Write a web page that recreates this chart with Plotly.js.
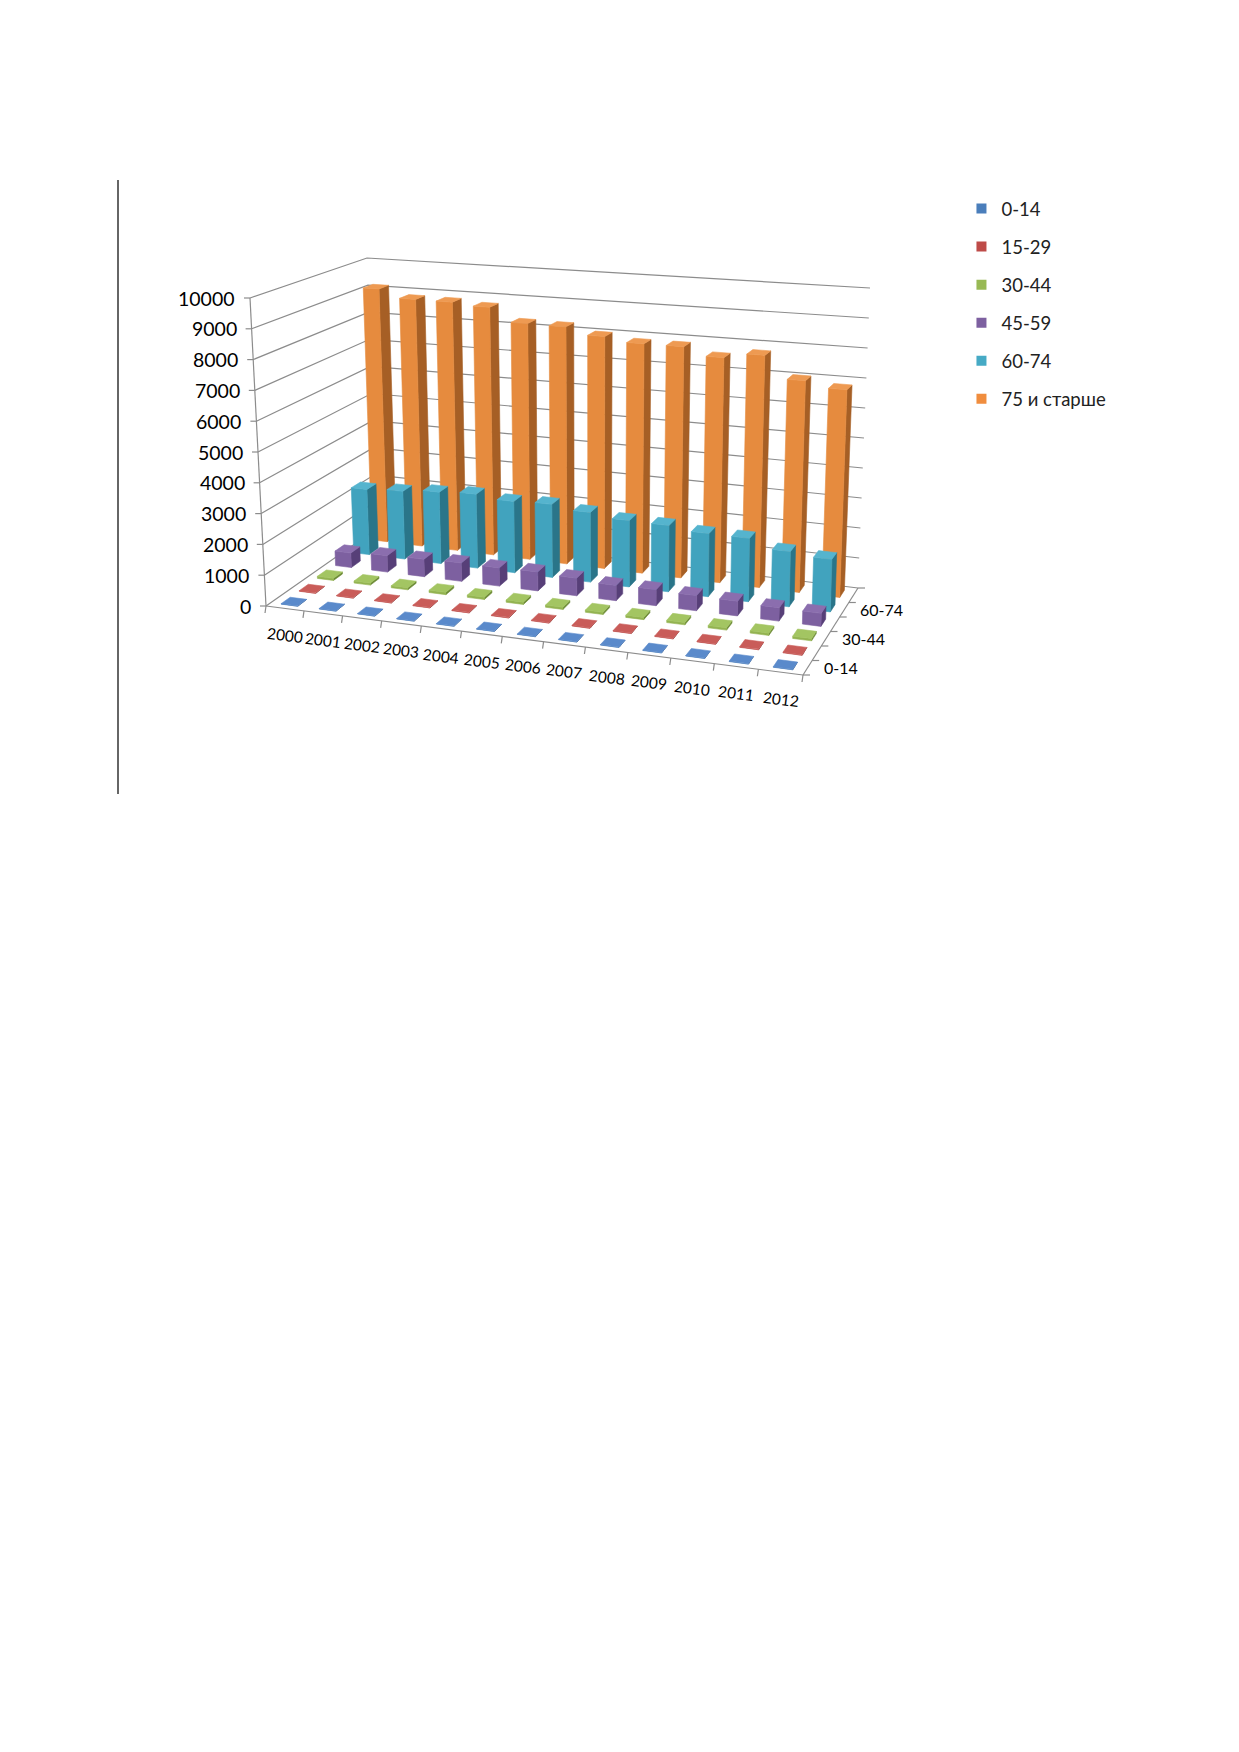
<!DOCTYPE html>
<html>
<head>
<meta charset="utf-8">
<script src="https://cdn.plot.ly/plotly-3.0.1.min.js"></script>
<style>
html,body{margin:0;padding:0;background:#fff;}
#chart{width:1239px;height:1752px;}
</style>
</head>
<body>
<div id="chart"></div>
<script>
// ---------------- data ----------------
const years = ['2000','2001','2002','2003','2004','2005','2006','2007','2008','2009','2010','2011','2012'];
const seriesNames = ['0-14','15-29','30-44','45-59','60-74','75 и старше'];
const depthLabels = ['0-14','30-44','60-74'];
const depthLabelRows = [0,2,4];
const zTicks = [0,1000,2000,3000,4000,5000,6000,7000,8000,9000,10000];

const s0_14  = [15,15,15,15,15,15,15,15,15,15,15,15,15];
const s15_29 = [20,20,20,20,20,20,20,20,20,20,20,20,20];
const s30_44 = [70,70,70,75,75,75,70,70,70,70,70,70,70];
const s45_59 = [500,560,590,620,610,630,580,500,520,490,470,420,410];
const s60_74 = [2300,2370,2480,2550,2440,2480,2350,2220,2200,2080,2070,1790,1690];
const s75    = [9120,8830,8820,8730,8250,8230,7990,7840,7840,7570,7750,7010,6820];
const seriesValues = [s0_14,s15_29,s30_44,s45_59,s60_74,s75];

// ---------------- styles ----------------
const legendColors = ['#4A7EBB','#BE4B48','#98B954','#7D60A0','#46AAC5','#F08D3E'];
const frontColors  = ['#4A7EBB','#BE4B48','#93B351','#7D60A0','#41A3BE','#E68B3E'];
const sideColors   = ['#2F5B8F','#8A2F2D','#6C8A35','#573F78','#2A7589','#A65F25'];
const topColors    = ['#5A8ACB','#C95C59','#A3C562','#8B6EAE','#55B4CE','#EE9A52'];
const gridColor = '#8C8C8C';
const FONT = 'Lato, sans-serif';

// ---------------- projection (3D chart box -> page pixels) ----------------
// box: X across years [0,13], Y depth rows [0,6] (0 = front), Z value in thousands [0,10]
// corners of the floor and of the 10000 level: front-left, front-right, back-left, back-right
const floorCorners = [[266,606],[803,675],[376,529],[858,588]];
const topCorners   = [[250,298],[808,334],[367,258],[870,288]];
const foreshorten = 0.19;   // category spacing grows from left to right

const NX = years.length, NY = seriesNames.length, ZMAX = 10;
function bilin(q, s, t){
  const fx=(1-t)*((1-s)*q[0][0]+s*q[1][0])+t*((1-s)*q[2][0]+s*q[3][0]);
  const fy=(1-t)*((1-s)*q[0][1]+s*q[1][1])+t*((1-s)*q[2][1]+s*q[3][1]);
  return [fx,fy];
}
function proj(X,Y,Z){
  const u=X/NX, s=(u+foreshorten*u*u/2)/(1+foreshorten/2), t=Y/NY, f=Z/ZMAX;
  const a=bilin(floorCorners,s,t), c=bilin(topCorners,s,t);
  return [a[0]+(c[0]-a[0])*f, a[1]+(c[1]-a[1])*f];
}

const traces = [];
function lineTrace(segs, color, width){
  const x=[],y=[];
  segs.forEach(s=>{ s.forEach(p=>{x.push(p[0]);y.push(p[1]);}); x.push(null); y.push(null); });
  traces.push({type:'scatter',mode:'lines',x,y,line:{color,width},hoverinfo:'skip',showlegend:false});
}
function polyTrace(polys, color){
  const x=[],y=[];
  polys.forEach(P=>{ P.forEach(p=>{x.push(p[0]);y.push(p[1]);}); x.push(P[0][0]); y.push(P[0][1]); x.push(null); y.push(null); });
  traces.push({type:'scatter',mode:'lines',x,y,fill:'toself',fillcolor:color,
               line:{color:color,width:0.6},hoverinfo:'skip',showlegend:false});
}

// value gridlines on left wall and back wall
const gridSegs = [];
zTicks.forEach(t=>{
  const z=t/1000;
  gridSegs.push([proj(0,0,z),proj(0,NY,z),proj(NX,NY,z)]);
});
lineTrace(gridSegs, gridColor, 1.2);
// axes: vertical value axis, front edge, right depth edge
lineTrace([[proj(0,0,0),proj(0,0,ZMAX)],[proj(0,0,0),proj(NX,0,0)],[proj(NX,0,0),proj(NX,NY,0)]], gridColor, 1.2);
// tick marks
const tickSegs=[];
zTicks.forEach(t=>{ const p=proj(0,0,t/1000); tickSegs.push([p,[p[0]-6,p[1]]]); });
for(let i=0;i<=NX;i++){ const p=proj(i,0,0); tickSegs.push([p,[p[0]-1,p[1]+7]]); }
for(let j=0;j<=NY;j++){ const p=proj(NX,j,0); tickSegs.push([p,[p[0]+7,p[1]]]); }
lineTrace(tickSegs, gridColor, 1.2);

// bars, from back row to front row
const hw=0.22, hd=0.25;
for(let si=NY-1; si>=0; si--){
  const fronts=[], sides=[], tops=[];
  seriesValues[si].forEach((v,xi)=>{
    const z=v/1000, x0=xi+0.5-hw, x1=xi+0.5+hw, y0=si+0.5-hd, y1=si+0.5+hd;
    fronts.push([proj(x0,y0,0),proj(x1,y0,0),proj(x1,y0,z),proj(x0,y0,z)]);
    sides.push([proj(x1,y0,0),proj(x1,y1,0),proj(x1,y1,z),proj(x1,y0,z)]);
    tops.push([proj(x0,y0,z),proj(x1,y0,z),proj(x1,y1,z),proj(x0,y1,z)]);
  });
  polyTrace(sides, sideColors[si]);
  polyTrace(fronts, frontColors[si]);
  polyTrace(tops, topColors[si]);
}

// legend entries
seriesNames.forEach((n,si)=>{
  traces.push({type:'scatter',mode:'markers',x:[null],y:[null],name:n,legendgroup:'g'+si,
               marker:{symbol:'square',size:10,color:legendColors[si]},hoverinfo:'skip'});
});

// tick labels anchored on the projected axes
const annotations=[];
zTicks.forEach(t=>{
  const p=proj(0,0,t/1000);
  annotations.push({x:p[0]-13,y:p[1],text:String(t),showarrow:false,xanchor:'right',yanchor:'middle',
                    font:{family:FONT,size:19.5,color:'#000'}});
});
years.forEach((yr,i)=>{
  const p=proj(i+0.5,0,0);
  annotations.push({x:p[0],y:p[1]+27,text:yr,showarrow:false,xanchor:'center',yanchor:'middle',textangle:7,
                    font:{family:FONT,size:15.5,color:'#000'}});
});
depthLabels.forEach((lab,k)=>{
  const p=proj(NX,depthLabelRows[k]+0.5,0);
  annotations.push({x:p[0]+14,y:p[1],text:lab,showarrow:false,xanchor:'left',yanchor:'middle',
                    font:{family:FONT,size:16,color:'#000'}});
});

const layout={
  width:1239,height:1752,margin:{l:0,r:0,t:0,b:0},
  paper_bgcolor:'#fff',plot_bgcolor:'#fff',
  xaxis:{range:[0,1239],visible:false,fixedrange:true},
  yaxis:{range:[1752,0],visible:false,fixedrange:true},
  showlegend:true,
  legend:{x:0.776,y:1-190/1752,xanchor:'left',yanchor:'top',
          font:{family:FONT,size:18.5,color:'#222'},tracegroupgap:11,bgcolor:'rgba(0,0,0,0)'},
  annotations,
  shapes:[{type:'line',xref:'paper',yref:'paper',x0:118/1239,x1:118/1239,
           y0:1-180/1752,y1:1-794/1752,line:{color:'#333',width:1.5}}]
};
Plotly.newPlot('chart',traces,layout,{displayModeBar:false,staticPlot:true});
</script>
</body>
</html>
